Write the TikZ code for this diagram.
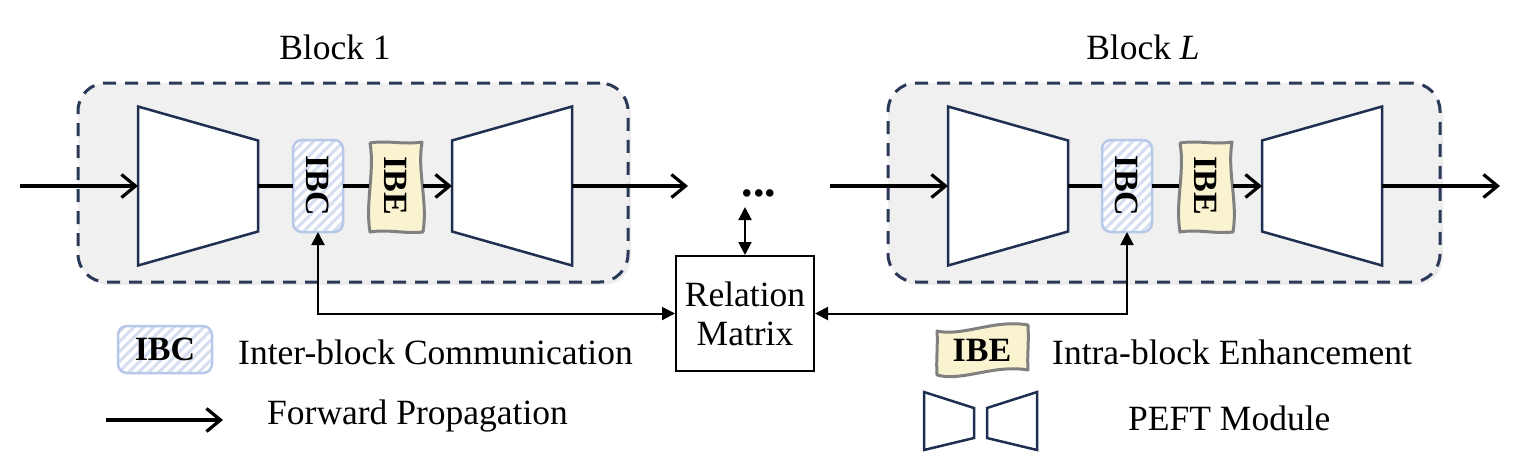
\documentclass[tikz,border=0pt]{standalone}
\usepackage{fontspec}
\setmainfont{Liberation Serif}
\usetikzlibrary{arrows.meta,calc,shadows}
\definecolor{navy}{HTML}{1F2F4F}
\definecolor{dashnavy}{HTML}{2A3957}
\definecolor{blockgray}{HTML}{F0F0F1}
\definecolor{ibcline}{HTML}{B7C8E8}
\definecolor{ibcstripe}{HTML}{D6DFF1}
\definecolor{ibefill}{HTML}{FAF3CF}
\definecolor{ibeline}{HTML}{808080}
\tikzset{
  txt/.style={font=\fontsize{35.5}{39}\selectfont, inner sep=0pt},
  boldtxt/.style={font=\fontsize{34}{38}\selectfont\bfseries, inner sep=0pt},
  blockbox/.style={draw=dashnavy, fill=blockgray, line width=3pt, dash pattern=on 13pt off 9pt,
    rounded corners=28pt, inner sep=0pt, outer sep=0pt,
    drop shadow={opacity=0.15, shadow xshift=3pt, shadow yshift=-3pt}},
  ghost/.style={inner sep=0pt, outer sep=0pt, minimum width=120pt, minimum height=159pt},
  trap/.style={draw=navy, fill=white, line width=2.5pt, line join=miter},
  fwd/.style={line width=3.2pt, -{Straight Barb[length=14pt,width=23pt]}},
  flow/.style={line width=3.2pt},
  rel/.style={line width=2pt, {Triangle[length=13pt,width=13pt]}-{Triangle[length=13pt,width=13pt]}},
  ibcbox/.style={draw=ibcline, line width=2.5pt, rounded corners=9pt, fill=white, inner sep=0pt, outer sep=0pt,
    path picture={\foreach \k in {-160,-150,...,160}
      \draw[ibcstripe, line width=3pt] ($(path picture bounding box.south west)+(\k,0)$) -- ++(160,-160);}},
  ibevert/.style={inner sep=0pt, outer sep=0pt, minimum width=54pt, minimum height=92pt},
  ibeshape/.style={draw=ibeline, fill=ibefill, line width=3pt, line join=round},
  rmbox/.style={draw, line width=2pt, minimum width=138pt, minimum height=115pt, align=center,
    font=\fontsize{35.5}{39}\selectfont, inner sep=0pt},
}
\newcommand{\enctrap}[1]{\draw[trap] (#1.north west) -- ([yshift=-34pt]#1.north east) -- ([yshift=34pt]#1.south east) -- (#1.south west) -- cycle;}
\newcommand{\dectrap}[1]{\draw[trap] ([yshift=-34pt]#1.north west) -- (#1.north east) -- (#1.south east) -- ([yshift=34pt]#1.south west) -- cycle;}
\newcommand{\ibewave}[2]{\begin{scope}[shift={(#1,#2)}]
  \draw[ibeshape] (-26,-44) .. controls (-8,-47) and (8,-42) .. (26,-45)
    .. controls (21,-15) and (32,15) .. (27,45)
    .. controls (8,47) and (-8,42) .. (-26,45)
    .. controls (-31,15) and (-21,-15) .. cycle;
\end{scope}}
\begin{document}
\begin{tikzpicture}[x=1pt,y=-1pt]
\useasboundingbox (0,0) rectangle (1536,475);
% ---------- blocks ----------
\node[blockbox, minimum width=550pt, minimum height=199pt] (blk1) at (353,182.5) {};
\node[blockbox, minimum width=552pt, minimum height=199pt] (blkL) at (1164,182.5) {};
\node[txt, anchor=base] (lab1) at (335,59) {Block 1};
\node[txt, anchor=base] (labL) at (1143,59) {Block \textit{L}};
% ---------- block 1 ----------
\node[ghost] (enc1) at (198,186) {};
\node[ghost] (dec1) at (512,186) {};
\enctrap{enc1}
\dectrap{dec1}
\node[ibcbox, minimum width=50pt, minimum height=92pt] (ibc1) at (318,186) {};
\node[boldtxt, rotate=-90] (ibc1t) at (ibc1) {IBC};
\ibewave{396}{187}
\node[ibevert] (ibe1) at (396,186) {};
\node[boldtxt, rotate=-90] (ibe1t) at (ibe1) {IBE};
% ---------- block L ----------
\node[ghost] (encL) at (1008,186) {};
\node[ghost] (decL) at (1322,186) {};
\enctrap{encL}
\dectrap{decL}
\node[ibcbox, minimum width=50pt, minimum height=92pt] (ibcL) at (1127,186) {};
\node[boldtxt, rotate=-90] (ibcLt) at (ibcL) {IBC};
\ibewave{1206}{187}
\node[ibevert] (ibeL) at (1206,186) {};
\node[boldtxt, rotate=-90] (ibeLt) at (ibeL) {IBE};
% ---------- forward flow ----------
\coordinate (in1) at (20,186);
\coordinate (out1) at (688,186);
\coordinate (inL) at (830,186);
\coordinate (outL) at (1500,186);
\draw[fwd] (in1) -- (enc1.west);
\draw[flow] (enc1.east) -- (ibc1.west);
\draw[flow] (ibc1.east) -- (ibe1.west);
\draw[fwd] (ibe1.east) -- (dec1.west);
\draw[fwd] (dec1.east) -- (out1);
\draw[fwd] (inL) -- (encL.west);
\draw[flow] (encL.east) -- (ibcL.west);
\draw[flow] (ibcL.east) -- (ibeL.west);
\draw[fwd] (ibeL.east) -- (decL.west);
\draw[fwd] (decL.east) -- (outL);
\node[anchor=base, inner sep=0pt, font=\fontsize{46}{50}\selectfont\bfseries] (dots) at (759,196) {...};
% ---------- relation matrix ----------
\node[rmbox] (rm) at (745,313.5) {Relation\\Matrix};
\coordinate (dotsb) at (745,207);
\draw[rel] (rm.north) -- (dotsb);
\draw[rel] (ibc1.south) |- (rm.west);
\draw[rel] (ibcL.south) |- (rm.east);
% ---------- legend ----------
\node[ibcbox, minimum width=94pt, minimum height=47pt] (libc) at (165,349.5) {};
\node[boldtxt] (libct) at (libc) {IBC};
\node[txt, anchor=base west] (libctxt) at (238,364) {Inter-block Communication};
\coordinate (lf1) at (106,420);
\coordinate (lf2) at (223,420);
\draw[fwd] (lf1) -- (lf2);
\node[txt, anchor=base west] (lftxt) at (267,424) {Forward Propagation};
\begin{scope}[shift={(982,350)}]
  \draw[ibeshape] (-45,-19) .. controls (-20,-13) and (12,-31) .. (46,-25)
    .. controls (47,-5) and (45,5) .. (46,20)
    .. controls (12,14) and (-20,32) .. (-45,25)
    .. controls (-46,10) and (-44,-5) .. cycle;
\end{scope}
\node[boldtxt] (libet) at (982,350) {IBE};
\node[txt, anchor=base west] (libetxt) at (1052,364) {Intra-block Enhancement};
\draw[trap] (924,392) -- (974,408) -- (974,438) -- (924,450) -- cycle;
\draw[trap] (987,408) -- (1037,392) -- (1037,450) -- (987,438) -- cycle;
\node[txt, anchor=base west] (lpeft) at (1128,430) {PEFT Module};
\end{tikzpicture}
\end{document}
